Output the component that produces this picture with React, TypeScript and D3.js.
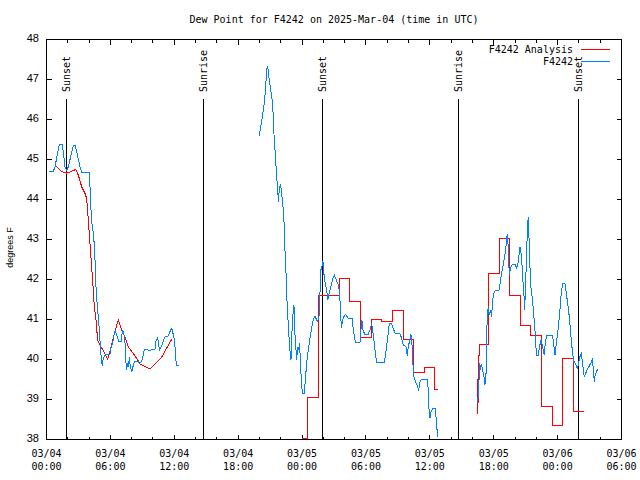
import React from 'react';
import * as d3 from 'd3';

const W = 640;
const H = 480;
const PLOT = { left: 46.5, right: 621.5, top: 39.5, bottom: 439.5 };

const titleText = 'Dew Point for F4242 on 2025-Mar-04 (time in UTC)';
const yAxisLabel = 'degrees F';
const seriesNames = ['F4242 Analysis', 'F4242'];
const seriesColors = ['#ff0000', '#0080ff'];
const startMs = Date.UTC(2025, 2, 4, 0, 0);
const endMs = Date.UTC(2025, 2, 6, 6, 0);
const yDomain = [38, 48];
const yTickValues = [38, 39, 40, 41, 42, 43, 44, 45, 46, 47, 48];

// Sun events, hours after 03/04 00:00 UTC
const sunLabels = ['Sunset', 'Sunrise', 'Sunset', 'Sunrise', 'Sunset'];
const sunHours = [1.87, 14.72, 25.9, 38.68, 49.93];

// Observations (F4242) — [hours after 03/04 00:00 UTC, deg F]
const obsSeg1: [number, number][] = [
  [0.26, 44.7], [0.64, 44.7], [0.8, 44.82], [1.2, 45.38], [1.49, 45.38], [1.74, 44.82], [1.9, 44.72],
  [2.05, 44.82], [2.52, 45.35], [2.7, 45.35], [3.15, 44.82], [3.3, 44.68], [4.02, 44.68], [4.08, 44.36],
  [4.18, 43.74], [4.3, 43.3], [4.4, 43.16], [4.49, 42.86], [4.55, 42.53], [4.65, 41.82], [4.77, 41.32],
  [4.9, 40.99], [4.96, 40.7], [5.05, 40.36], [5.15, 40.0], [5.24, 39.84], [5.3, 39.99], [5.4, 40.07],
  [5.56, 40.13], [5.96, 40.13], [6.06, 40.28], [6.21, 40.4], [6.34, 40.61], [6.46, 40.74], [6.59, 40.61],
  [6.78, 40.45], [7.0, 40.45], [7.15, 40.74], [7.25, 40.66], [7.34, 40.53], [7.43, 40.2], [7.46, 39.92],
  [7.53, 39.75], [7.62, 39.9], [7.72, 39.82], [7.77, 40.07], [7.87, 39.82], [8.0, 39.69], [8.12, 39.82],
  [8.25, 39.95], [8.62, 39.95], [8.71, 39.9], [8.94, 39.95], [9.06, 40.07], [9.18, 40.25], [9.47, 40.25],
  [9.72, 40.21], [9.85, 40.25], [10.19, 40.25], [10.28, 40.45], [10.44, 40.56], [10.53, 40.36],
  [10.62, 40.24], [10.75, 40.3], [10.91, 40.4], [11.03, 40.5], [11.16, 40.57], [11.38, 40.57], [11.6, 40.7],
  [11.76, 40.78], [11.88, 40.65], [12.0, 40.5], [12.06, 40.36], [12.13, 40.03], [12.22, 39.84], [12.47, 39.84],
];
const obsSeg2: [number, number][] = [
  [19.98, 45.6], [20.11, 45.8], [20.23, 45.99], [20.36, 46.24], [20.49, 46.49], [20.58, 46.84], [20.68, 47.2],
  [20.73, 47.34], [20.83, 47.22], [20.92, 46.99], [21.05, 46.76], [21.15, 46.57], [21.24, 46.4], [21.33, 45.78],
  [21.43, 45.36], [21.52, 44.99], [21.61, 44.57], [21.71, 44.32], [21.77, 43.95], [21.86, 44.24], [21.96, 44.38],
  [22.05, 44.24], [22.14, 43.99], [22.24, 43.74], [22.33, 43.32], [22.39, 42.76], [22.49, 42.2], [22.55, 41.65],
  [22.65, 41.15], [22.74, 40.7], [22.86, 40.24], [22.96, 39.99], [23.02, 40.49], [23.12, 41.07], [23.24, 41.36],
  [23.33, 40.65], [23.43, 40.24], [23.49, 39.99], [23.58, 40.32], [23.68, 40.24], [23.77, 40.4], [23.87, 39.78],
  [23.96, 39.36], [24.05, 39.14], [24.2, 39.14], [24.3, 39.45], [24.43, 39.9], [24.58, 40.24], [24.74, 40.53],
  [24.9, 40.78], [25.05, 40.99], [25.21, 41.09], [25.37, 40.99], [25.46, 40.95], [25.59, 41.07], [25.68, 41.65],
  [25.77, 42.24], [25.87, 42.32], [25.96, 42.47], [26.05, 42.15], [26.17, 41.9], [26.31, 41.74], [26.43, 41.5],
  [26.55, 41.65], [26.74, 41.86], [26.9, 42.03], [27.03, 42.11], [27.16, 42.03], [27.26, 41.95], [27.44, 41.86],
  [27.56, 41.49], [27.65, 40.99], [27.72, 40.8], [27.77, 40.95], [27.93, 41.07], [28.06, 41.13], [28.24, 41.07],
  [28.34, 41.03], [28.71, 41.03], [28.81, 40.74], [28.94, 40.53], [29.03, 40.43], [29.44, 40.43], [29.53, 40.74],
  [29.62, 40.99], [29.69, 40.8], [29.75, 40.71], [29.9, 40.63], [30.22, 40.63], [30.38, 40.74], [30.53, 40.9],
  [30.62, 40.74], [30.75, 40.49], [30.85, 40.24], [30.94, 40.05], [31.0, 39.93], [31.72, 39.93], [31.82, 40.07],
  [31.94, 40.32], [32.07, 40.61], [32.19, 40.9], [32.41, 40.9], [32.56, 40.78], [32.75, 40.64], [33.19, 40.64],
  [33.32, 40.56], [33.5, 40.36], [33.76, 40.32], [33.88, 40.09], [33.97, 40.32], [34.13, 40.49], [34.23, 40.63],
  [34.32, 40.4], [34.41, 39.9], [34.51, 39.57], [34.69, 39.43], [34.95, 39.24], [35.07, 39.43], [35.23, 39.51],
  [35.76, 39.51], [35.85, 39.24], [35.92, 38.78], [36.01, 38.53], [36.07, 38.65], [36.26, 38.78], [36.51, 38.78],
  [36.64, 38.36], [36.73, 38.07],
];
const obsSeg3: [number, number][] = [
  [40.45, 38.92], [40.55, 39.07], [40.61, 39.42], [40.68, 39.9], [40.77, 39.78], [40.86, 39.85], [40.96, 39.74],
  [41.08, 39.57], [41.17, 39.36], [41.24, 39.53], [41.3, 39.73], [41.33, 40.32], [41.38, 40.99], [41.48, 41.32],
  [41.57, 41.11], [41.7, 41.24], [41.8, 41.07], [41.9, 41.49], [42.02, 41.65], [42.14, 41.72], [42.52, 41.74],
  [42.65, 41.99], [42.77, 42.2], [42.89, 42.36], [43.02, 42.57], [43.15, 42.82], [43.27, 43.14], [43.36, 42.82],
  [43.46, 42.11], [43.55, 42.24], [43.64, 42.32], [43.77, 42.38], [44.02, 42.38], [44.15, 42.28], [44.25, 42.36],
  [44.34, 42.53], [44.46, 42.82], [44.56, 42.66], [44.65, 42.4], [44.74, 41.99], [44.84, 41.61], [44.9, 41.24],
  [44.96, 41.61], [45.05, 42.32], [45.15, 43.16], [45.24, 43.57], [45.3, 43.16], [45.4, 42.32], [45.49, 41.82],
  [45.62, 41.53], [45.75, 41.16], [45.87, 40.74], [45.96, 40.32], [46.06, 40.11], [46.18, 40.11], [46.31, 40.32],
  [46.43, 40.49], [46.56, 40.36], [46.65, 40.24], [46.75, 40.11], [46.84, 40.4], [46.97, 40.59], [47.53, 40.59],
  [47.66, 40.32], [47.75, 40.11], [47.84, 40.32], [47.96, 40.57], [48.09, 40.86], [48.22, 41.24], [48.34, 41.65],
  [48.47, 41.9], [48.69, 41.9], [48.78, 41.74], [48.9, 41.49], [49.03, 41.24], [49.15, 40.9], [49.28, 40.49],
  [49.41, 40.15], [49.53, 39.95], [49.66, 39.9], [49.78, 39.82], [49.87, 39.78], [49.97, 39.9], [50.09, 40.07],
  [50.22, 40.14], [50.31, 39.99], [50.4, 39.78], [50.5, 39.57], [50.63, 39.65], [50.78, 39.74], [50.94, 39.82],
  [51.1, 39.9], [51.25, 39.99], [51.35, 39.78], [51.44, 39.45], [51.53, 39.61], [51.63, 39.69], [51.76, 39.75],
];

// Analysis (F4242 Analysis)
const anaSeg1: [number, number][] = [
  [0.8, 44.86], [1.43, 44.7], [1.9, 44.66], [2.3, 44.7], [2.74, 44.75], [2.99, 44.61], [3.3, 44.32],
  [3.62, 44.15], [3.77, 44.03], [3.93, 43.49], [4.08, 42.9], [4.34, 41.95], [4.49, 41.32], [4.65, 40.99],
  [4.8, 40.49], [5.12, 40.32], [5.49, 40.15], [5.75, 40.0], [6.03, 40.28], [6.34, 40.61], [6.74, 40.99],
  [7.06, 40.74], [7.3, 40.61], [7.68, 40.32], [8.47, 40.03], [8.78, 39.89], [9.72, 39.76], [10.75, 40.03],
  [11.76, 40.51],
];
const anaSeg2: [number, number][] = [
  [24, 38.03], [25, 39.06], [26, 41.6], [27, 41.6], [28, 42.03], [29, 41.45], [30, 40.55], [31, 41.0],
  [32, 40.96], [33, 41.23], [34, 40.5], [35, 39.67], [36, 39.8], [36.8, 39.25],
];
const anaSeg3: [number, number][] = [
  [40.45, 38.65], [40.5, 39.49], [40.58, 38.92], [40.65, 40.09], [40.75, 40.38], [41, 40.38], [42, 42.15],
  [43, 43.03], [44, 41.6], [45, 40.85], [46, 40.59], [47, 38.82], [48, 38.34], [49, 40.03], [50, 38.69],
  [50.5, 38.69],
];

const MONO = '"DejaVu Sans Mono", monospace';
const SANS = '"Liberation Sans", Arial, sans-serif';

export default function App() {
  const x = d3.scaleUtc().domain([new Date(startMs), new Date(endMs)]).range([PLOT.left, PLOT.right]);
  const y = d3.scaleLinear().domain(yDomain).range([PLOT.bottom, PLOT.top]);
  const hx = (h: number) => x(new Date(startMs + h * 3600e3));

  const lineLinear = d3.line<[number, number]>().x((d) => hx(d[0])).y((d) => y(d[1])).curve(d3.curveLinear);
  const lineStep = d3.line<[number, number]>().x((d) => hx(d[0])).y((d) => y(d[1])).curve(d3.curveStep);

  const xTicks = d3.utcHour.every(2)!.range(new Date(startMs), new Date(endMs + 1));
  const fmtDate = d3.utcFormat('%m/%d');
  const fmtTime = d3.utcFormat('%H:%M');

  const majorLen = 5;
  const minorLen = 3;

  return (
    <svg width={W} height={H} style={{ position: 'absolute', left: 0, top: 0, background: '#fff' }}>
      <rect x={0} y={0} width={W} height={H} fill="#fff" />
      <defs>
        <clipPath id="plotclip">
          <rect x={PLOT.left} y={PLOT.top} width={PLOT.right - PLOT.left} height={PLOT.bottom - PLOT.top} />
        </clipPath>
      </defs>

      {/* title */}
      <text x={(PLOT.left + PLOT.right) / 2} y={20} textAnchor="middle" dominantBaseline="middle"
        fontFamily={MONO} fontSize={10} fill="#000">{titleText}</text>

      {/* y label */}
      <text transform={`translate(11,${(PLOT.top + PLOT.bottom) / 2 + 8}) rotate(-90)`} textAnchor="middle"
        dominantBaseline="middle" fontFamily={SANS} fontSize={9} fill="#000">{yAxisLabel}</text>

      {/* y ticks */}
      <g shapeRendering="crispEdges">
        {yTickValues.map((v) => (
          <g key={'y' + v}>
            <line x1={PLOT.left} x2={PLOT.left + majorLen} y1={y(v)} y2={y(v)} stroke="#000" />
            <line x1={PLOT.right} x2={PLOT.right - majorLen} y1={y(v)} y2={y(v)} stroke="#000" />
          </g>
        ))}
      </g>
      {yTickValues.map((v) => (
        <text key={'yl' + v} x={39} y={y(v)} textAnchor="end" dominantBaseline="middle"
          fontFamily={SANS} fontSize={11} fill="#000">{v}</text>
      ))}

      {/* x ticks */}
      <g shapeRendering="crispEdges">
        {xTicks.map((d) => {
          const major = d.getUTCHours() % 6 === 0;
          const len = major ? majorLen : minorLen;
          const xx = Math.round(x(d) - 0.5) + 0.5;
          return (
            <g key={'x' + d.getTime()}>
              <line x1={xx} x2={xx} y1={PLOT.bottom} y2={PLOT.bottom - len} stroke="#000" />
              <line x1={xx} x2={xx} y1={PLOT.top} y2={PLOT.top + len} stroke="#000" />
            </g>
          );
        })}
      </g>
      {xTicks.filter((d) => d.getUTCHours() % 6 === 0).map((d) => (
        <g key={'xl' + d.getTime()} fontFamily={MONO} fontSize={10} fill="#000" textAnchor="middle">
          <text x={x(d)} y={454} dominantBaseline="middle">{fmtDate(d)}</text>
          <text x={x(d)} y={467} dominantBaseline="middle">{fmtTime(d)}</text>
        </g>
      ))}

      {/* sun events */}
      {sunHours.map((h, i) => {
        const xx = Math.round(hx(h) - 0.5) + 0.5;
        return (
          <g key={'sun' + i}>
            <line x1={xx} x2={xx} y1={99} y2={PLOT.bottom} stroke="#000" shapeRendering="crispEdges" />
            <text transform={`translate(${xx},92) rotate(-90)`} textAnchor="start" dominantBaseline="middle"
              fontFamily={MONO} fontSize={10} fill="#000">{sunLabels[i]}</text>
          </g>
        );
      })}

      {/* data */}
      <g clipPath="url(#plotclip)" fill="none" strokeWidth={1} shapeRendering="crispEdges">
        <path d={lineLinear(anaSeg1) || ''} stroke={seriesColors[0]} />
        <path d={lineStep(anaSeg2) || ''} stroke={seriesColors[0]} />
        <path d={lineStep(anaSeg3) || ''} stroke={seriesColors[0]} />
        <path d={lineLinear(obsSeg1) || ''} stroke={seriesColors[1]} />
        <path d={lineLinear(obsSeg2) || ''} stroke={seriesColors[1]} />
        <path d={lineLinear(obsSeg3) || ''} stroke={seriesColors[1]} />
      </g>

      {/* legend */}
      {seriesNames.map((name, i) => (
        <g key={'lg' + i}>
          <text x={573} y={50 + i * 12} textAnchor="end" dominantBaseline="middle" fontFamily={MONO}
            fontSize={10} fill="#000">{name}</text>
          <line x1={581} x2={610} y1={49.5 + i * 12} y2={49.5 + i * 12} stroke={seriesColors[i]}
            shapeRendering="crispEdges" />
        </g>
      ))}

      {/* frame */}
      <rect x={PLOT.left} y={PLOT.top} width={PLOT.right - PLOT.left} height={PLOT.bottom - PLOT.top}
        fill="none" stroke="#000" shapeRendering="crispEdges" />
    </svg>
  );
}
